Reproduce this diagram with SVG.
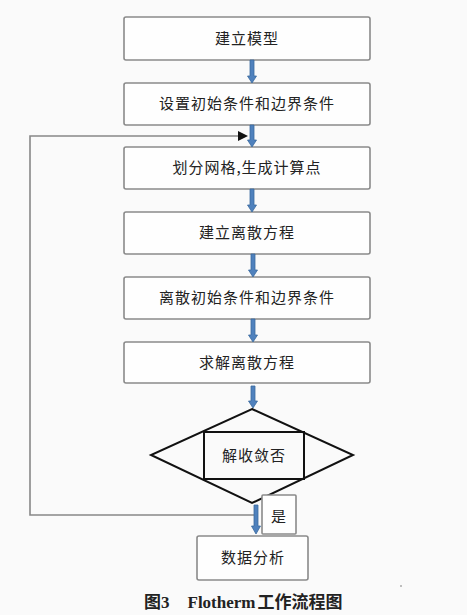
<svg xmlns="http://www.w3.org/2000/svg" width="467" height="615" viewBox="0 0 467 615">
<defs>
<style>
.box{fill:#fefefe;stroke:#8a8a8a;stroke-width:1.6}
.t{font-family:"Noto Sans CJK SC","Noto Sans CJK JP",sans-serif;font-size:15px;fill:#222;text-anchor:middle;letter-spacing:1px}
.arr{fill:#4f81bd;stroke:#3a6a9e;stroke-width:0.8}
.dia{fill:none;stroke:#111;stroke-width:2}
.loop{fill:none;stroke:#888;stroke-width:1.6}
</style>
</defs>
<rect width="467" height="615" fill="#fafafa"/>
<g id="n1"><rect class="box" x="124" y="17" width="246" height="43" rx="2"/><text class="t" x="247" y="44">建立模型</text></g>
<g id="n2"><rect class="box" x="124" y="83" width="246" height="42" rx="2"/><text class="t" x="247" y="109">设置初始条件和边界条件</text></g>
<g id="n3"><rect class="box" x="124" y="147" width="246" height="42" rx="2"/><text class="t" x="247" y="173">划分网格,生成计算点</text></g>
<g id="n4"><rect class="box" x="124" y="212" width="246" height="42" rx="2"/><text class="t" x="247" y="238">建立离散方程</text></g>
<g id="n5"><rect class="box" x="124" y="277" width="246" height="42" rx="2"/><text class="t" x="247" y="303">离散初始条件和边界条件</text></g>
<g id="n6"><rect class="box" x="124" y="342" width="246" height="41" rx="2"/><text class="t" x="247" y="368">求解离散方程</text></g>
<g id="n7"><polygon class="dia" points="252,409 353,455 252,503 151,455"/><rect class="dia" x="204" y="432" width="100" height="47"/><text class="t" x="254" y="461">解收敛否</text></g>
<g id="yes"><rect class="box" x="262" y="495" width="34" height="39" rx="1"/><text class="t" x="279" y="522" letter-spacing="0">是</text></g>
<g id="n8"><rect class="box" x="197" y="536" width="111" height="44" rx="2"/><text class="t" x="253" y="563">数据分析</text></g>
<g id="connectors">
<path class="arr" d="M250,60 H254 V76 H256.5 L252,83 L247.5,76 H250 Z"/>
<path class="arr" d="M250,125 H254 V140 H256.5 L252,147 L247.5,140 H250 Z"/>
<path class="arr" d="M250,189 H254 V205 H256.5 L252,212 L247.5,205 H250 Z"/>
<path class="arr" d="M251,254 H255 V270 H257.5 L253,277 L248.5,270 H251 Z"/>
<path class="arr" d="M251,319 H255 V335 H257.5 L253,342 L248.5,335 H251 Z"/>
<path class="arr" d="M251,386 H255 V401 H257.5 L253,408 L248.5,401 H251 Z"/>
<path class="loop" d="M254,515 H30 V136 H238"/>
<path d="M238,131 L248,136 L238,141 Z" fill="#111"/>
<path class="arr" d="M254,505 H258 V526 H260.5 L256,534 L251.5,526 H254 Z"/>
</g>
<text x="144" y="608" font-family="'Liberation Serif','Noto Sans CJK SC',serif" font-size="17" font-weight="bold" fill="#222">图3<tspan dx="18">Flotherm</tspan><tspan dx="2">工作流程图</tspan></text>
<circle cx="401" cy="586" r="0.7" fill="#555"/>
</svg>
